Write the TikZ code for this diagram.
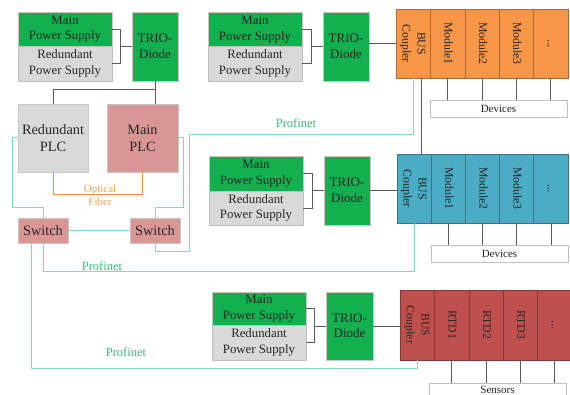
\documentclass[tikz,border=0pt]{standalone}
\usepackage{fontspec}
\setmainfont{Liberation Serif}
\usepackage{graphicx}
\definecolor{psgreen}{HTML}{12B04F}
\definecolor{psgray}{HTML}{D9D9D9}
\definecolor{plcred}{HTML}{D99694}
\definecolor{orangeblk}{HTML}{F79646}
\definecolor{blueblk}{HTML}{4BACC6}
\definecolor{redblk}{HTML}{C0504D}
\definecolor{pnline}{HTML}{86D9B0}
\definecolor{pntext}{HTML}{3CB878}
\definecolor{fiber}{HTML}{F0913A}
\definecolor{fibertext}{HTML}{F0A050}
\definecolor{wirec}{HTML}{5A5A5A}
\definecolor{txt}{HTML}{262626}
\newcommand{\celltext}[1]{\rotatebox{-90}{\begin{tabular}{@{}c@{}}#1\end{tabular}}}
\begin{document}
\begin{tikzpicture}[x=1pt,y=-1pt,
  box/.style={rectangle, inner sep=0pt, align=center, text=txt, draw=black!22, line width=0.5pt},
  psfont/.style={font=\fontsize{12.8}{15.5}\selectfont},
  mainps/.style={box, psfont, fill=psgreen, minimum width=94pt, minimum height=34pt},
  redps/.style={box, psfont, fill=psgray, draw=black!25, minimum width=94pt, minimum height=35pt},
  trio/.style={box, font=\fontsize{13}{15.5}\selectfont, fill=psgreen, minimum width=46pt, minimum height=69pt},
  plc/.style={box, font=\fontsize{14.3}{17}\selectfont, minimum width=70pt, minimum height=68pt},
  switchbox/.style={box, font=\fontsize{14.3}{17}\selectfont, fill=plcred, minimum width=50pt, minimum height=25pt},
  cell/.style={rectangle, inner sep=0pt, text=txt, fill=#1, draw=#1!70!black, line width=0.5pt,
     minimum width=34.4pt, minimum height=69pt, font=\fontsize{11.8}{15}\selectfont},
  devbox/.style={rectangle, inner sep=0pt, text=txt, fill=white, draw=black!25, line width=0.5pt,
     minimum width=137pt, minimum height=17pt, font=\fontsize{11}{13}\selectfont},
  wire/.style={draw=wirec, line width=0.8pt},
  pn/.style={draw=pnline, line width=1pt},
  pnlabel/.style={text=pntext, font=\fontsize{12.5}{14}\selectfont, inner sep=0pt},
  fiberline/.style={draw=fiber, line width=1pt}
]
\useasboundingbox (0,0) rectangle (570,395);
\clip (0,0) rectangle (570,395);

% ---------- group 1 (PLC power) ----------
\node[mainps] (mps1) at (65,29) {Main\\Power Supply};
\node[redps] (rps1) at (65,63.5) {Redundant\\Power Supply};
\node[trio] (trio1) at (155,46.5) {TRIO-\\Diode};
\node[plc, fill=psgray] (rplc) at (53,138) {Redundant\\PLC};
\node[plc, fill=plcred, minimum width=71pt] (mplc) at (142.5,138) {Main\\PLC};
\node[switchbox] (sw1) at (43,230.5) {Switch};
\node[switchbox] (sw2) at (155,230.5) {Switch};

% ---------- group 2 (orange) ----------
\node[mainps] (mps2) at (255,29.5) {Main\\Power Supply};
\node[redps] (rps2) at (255,63.5) {Redundant\\Power Supply};
\node[trio] (trio2) at (346,46.5) {TRIO-\\Diode};
\node[cell=orangeblk] (oc) at (413.2,43.5) {\celltext{BUS\\Coupler}};
\node[cell=orangeblk] (om1) at (447.6,43.5) {\celltext{Module1}};
\node[cell=orangeblk] (om2) at (482.0,43.5) {\celltext{Module2}};
\node[cell=orangeblk] (om3) at (516.4,43.5) {\celltext{Module3}};
\node[cell=orangeblk] (om4) at (550.8,43.5) {\celltext{...}};
\node[devbox] (odev) at (498.5,108.5) {Devices};

% ---------- group 3 (blue) ----------
\node[mainps, minimum height=35pt] (mps3) at (256,173.5) {Main\\Power Supply};
\node[redps, minimum height=34pt] (rps3) at (256,208) {Redundant\\Power Supply};
\node[trio] (trio3) at (347,190.5) {TRIO-\\Diode};
\node[cell=blueblk] (bc) at (414.1,188.5) {\celltext{BUS\\Coupler}};
\node[cell=blueblk] (bm1) at (448.3,188.5) {\celltext{Module1}};
\node[cell=blueblk] (bm2) at (482.5,188.5) {\celltext{Module2}};
\node[cell=blueblk] (bm3) at (516.7,188.5) {\celltext{Module3}};
\node[cell=blueblk] (bm4) at (550.9,188.5) {\celltext{...}};
\node[devbox] (bdev) at (499.5,253.5) {Devices};

% ---------- group 4 (red) ----------
\node[mainps, minimum height=33pt] (mps4) at (259,308.5) {Main\\Power Supply};
\node[redps] (rps4) at (259,342.5) {Redundant\\Power Supply};
\node[trio, minimum width=47pt, minimum height=68pt] (trio4) at (349.5,326) {TRIO-\\Diode};
\node[cell=redblk, minimum height=70pt] (rc) at (417.2,325) {\celltext{BUS\\Coupler}};
\node[cell=redblk, minimum height=70pt] (rm1) at (451.6,325) {\celltext{RTD1}};
\node[cell=redblk, minimum height=70pt] (rm2) at (486.0,325) {\celltext{RTD2}};
\node[cell=redblk, minimum height=70pt] (rm3) at (520.4,325) {\celltext{RTD3}};
\node[cell=redblk, minimum height=70pt] (rm4) at (554.8,325) {\celltext{...}};
\node[devbox, minimum height=13pt] (rsen) at (497.5,389.5) {Sensors};

% ---------- power wiring ----------
\draw[wire] (mps1.east) -- (120,29) -- (120,63.5) -- (rps1.east);
\draw[wire] (120,46.5) -- (trio1.west);
\draw[wire] (trio1.south) -- (155,89) -- (53,89) -- (rplc.north);
\draw[wire] (trio1.south) -- (trio1.south |- mplc.north);

\draw[wire] (mps2.east) -- (311,29.5) -- (311,63.5) -- (rps2.east);
\draw[wire] (311,46.5) -- (trio2.west);
\draw[wire] ([yshift=3.5pt]trio2.east) -- ([yshift=3.5pt]trio2.east -| oc.west);

\draw[wire] (mps3.east) -- (312,173.5) -- (312,208) -- (rps3.east);
\draw[wire] (312,190.5) -- (trio3.west);
\draw[wire] (trio3.east) -- (trio3.east -| bc.west);

\draw[wire] (mps4.east) -- (314,308.5) -- (314,342.5) -- (rps4.east);
\draw[wire] (314,326) -- (trio4.west);
\draw[wire] (trio4.east) -- (trio4.east -| rc.west);

\draw[wire] ([xshift=8pt]oc.south) -- ([xshift=8pt]oc.south |- bc.north);

% module to device wires
\foreach \m in {om1,om2,om3,om4}{\draw[wire] (\m.south) -- (\m.south |- odev.north);}
\foreach \m in {bm1,bm2,bm3,bm4}{\draw[wire] (\m.south) -- (\m.south |- bdev.north);}
\foreach \m in {rm1,rm2,rm3,rm4}{\draw[wire] (\m.south) -- (\m.south |- rsen.north);}

% ---------- optical fiber ----------
\draw[fiberline] (rplc.south) -- (53,195) -- (142.5,195) -- (mplc.south);
\node[text=fibertext, align=center, font=\fontsize{11}{13}\selectfont, inner sep=0pt] (oflabel) at (100,195.5) {Optical\\Fiber};

% ---------- profinet ----------
\draw[pn] (rplc.west) -- (12,138) -- (12,208) -- (43,208) -- (sw1.north);
\draw[pn] (mplc.east) -- (183,138) -- (183,208) -- (155,208) -- (sw2.north);
\draw[pn] (sw1.east) -- (sw2.west);
\draw[pn] (sw2.south) -- (155,252) -- (189,252) -- (189,135) -- (413.2,135) -- (oc.south);
\draw[pn] (sw1.south) -- (43,272) -- (414.1,272) -- (bc.south);
\draw[pn] ([xshift=-12pt]sw1.south) -- (31,368) -- (417.2,368) -- (rc.south);
\node[pnlabel] (pn1) at (296,123) {Profinet};
\node[pnlabel] (pn2) at (102,266) {Profinet};
\node[pnlabel] (pn3) at (126,352) {Profinet};
\end{tikzpicture}
\end{document}
